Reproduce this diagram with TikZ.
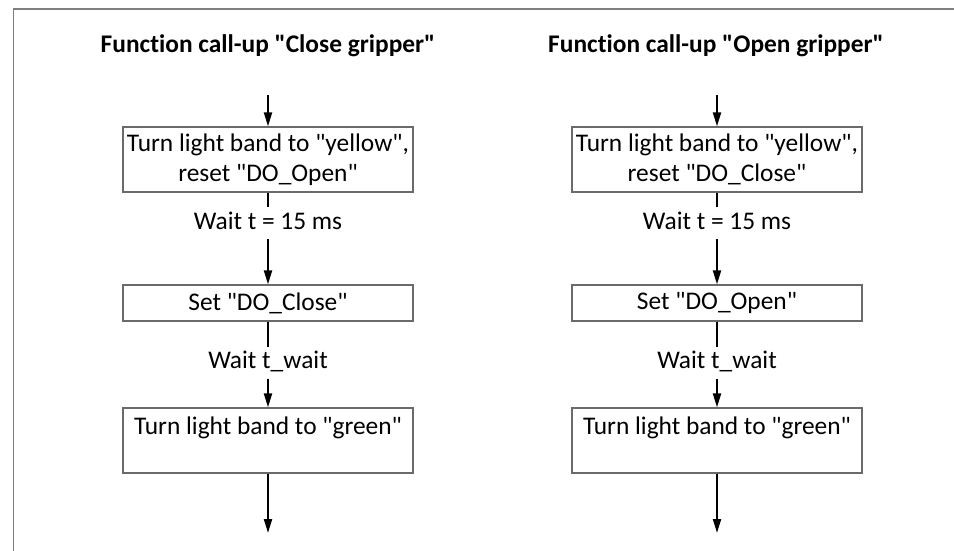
\documentclass[tikz,border=0pt]{standalone}
\usepackage{fontspec}
\defaultfontfeatures[\rmfamily]{}
\setmainfont{Carlito}[RawFeature={-liga,-clig,-calt,-dlig}]
\usetikzlibrary{arrows.meta}
\definecolor{framegray}{HTML}{7F7F7F}
\definecolor{boxgray}{HTML}{6A6A6A}
\tikzset{
  stepbox/.style={draw=boxgray, line width=0.6pt, minimum width=145pt, inner xsep=1pt, inner ysep=2pt, align=center},
  waitlbl/.style={inner xsep=0pt, inner ysep=2pt, text height=8.8pt, text depth=2.8pt},
  flowarrow/.style={line width=1pt, -{Triangle[length=7pt,width=4pt]}},
  flowline/.style={line width=1pt},
  headline/.style={font=\bfseries}
}
\begin{document}
\begin{tikzpicture}[x=0.5pt,y=-0.5pt]
                    \useasboundingbox (0,0) rectangle (954,551);
                    {\fontsize{12.7}{15}\selectfont

                    % Drawing frame
                    \draw [framegray, line width=0.75pt] (13.5,551) |- (954,9);%

                    % Column "Close gripper"
                    \node [headline] (titleL) at (268,46) {Function call-up "Close gripper"};%
                    \coordinate (startL) at (268,95);%
                    \node [stepbox, minimum height=32.5pt] (yellowL) at (268,159.5) {Turn light band to "yellow",\\ reset "DO\_Open"};%
                    \node [waitlbl] (waitL) at (268,223) {Wait t = 15 ms};%
                    \node [stepbox, minimum height=18pt] (setL) at (268,303) {Set "DO\_Close"};%
                    \node [waitlbl] (twaitL) at (268,362.5) {Wait t\_wait};%
                    \node [stepbox, minimum height=32.5pt] (greenL) at (268,440.5) {Turn light band to "green"\\ \mbox{}};%
                    \coordinate (endL) at (268,533);%

                    \draw [flowarrow] (startL) -- (yellowL);%
                    \draw [flowline] (yellowL) -- (waitL);%
                    \draw [flowarrow] (waitL) -- (setL);%
                    \draw [flowline] (setL) -- (twaitL);%
                    \draw [flowarrow] (twaitL) -- (greenL);%
                    \draw [flowarrow] (greenL) -- (endL);%

                    % Column "Open gripper"
                    \node [headline] (titleR) at (716,46) {Function call-up "Open gripper"};%
                    \coordinate (startR) at (717,95);%
                    \node [stepbox, minimum height=32.5pt] (yellowR) at (717,159.5) {Turn light band to "yellow",\\ reset "DO\_Close"};%
                    \node [waitlbl] (waitR) at (717,223) {Wait t = 15 ms};%
                    \node [stepbox, minimum height=18pt] (setR) at (717,303) {Set "DO\_Open"};%
                    \node [waitlbl] (twaitR) at (717,362.5) {Wait t\_wait};%
                    \node [stepbox, minimum height=32.5pt] (greenR) at (717,440.5) {Turn light band to "green"\\ \mbox{}};%
                    \coordinate (endR) at (717,533);%

                    \draw [flowarrow] (startR) -- (yellowR);%
                    \draw [flowline] (yellowR) -- (waitR);%
                    \draw [flowarrow] (waitR) -- (setR);%
                    \draw [flowline] (setR) -- (twaitR);%
                    \draw [flowarrow] (twaitR) -- (greenR);%
                    \draw [flowarrow] (greenR) -- (endR);%
                    }
\end{tikzpicture}
\end{document}
